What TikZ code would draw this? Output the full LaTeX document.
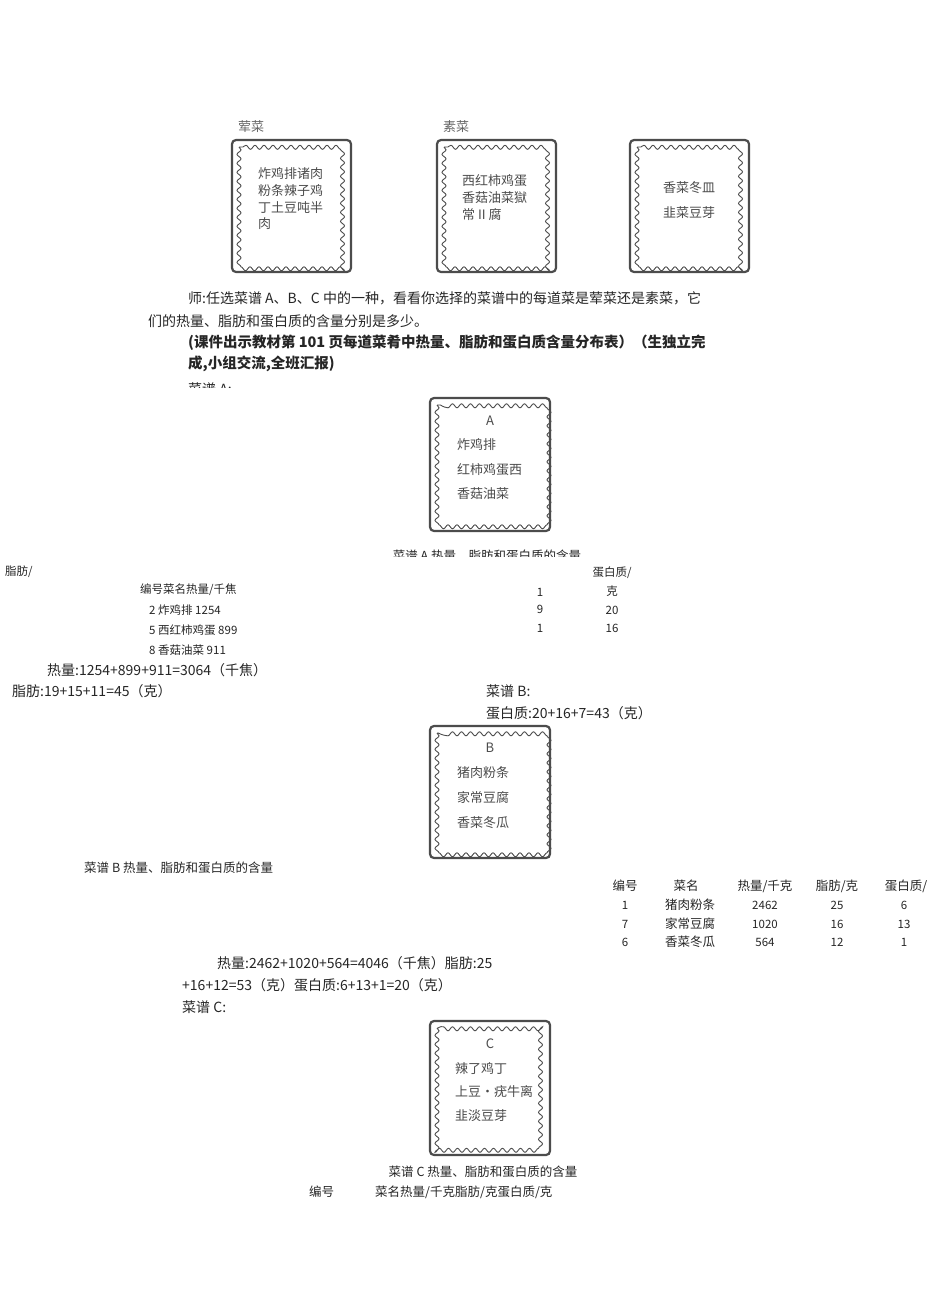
\documentclass[tikz,border=0pt]{standalone}
\usepackage{fontspec}
\setmainfont{Noto Sans CJK SC}
\usetikzlibrary{decorations.pathmorphing}
\tikzset{
 t/.style={anchor=west,inner sep=0pt,font=\fontsize{14}{14}\selectfont,text=black!85},
 s/.style={anchor=west,inner sep=0pt,font=\fontsize{11.5}{12}\selectfont,text=black!85},
 c/.style={anchor=center,inner sep=0pt,font=\fontsize{11.5}{12}\selectfont,text=black!85},
 bx/.style={anchor=west,inner sep=0pt,font=\fontsize{13}{13}\selectfont,text=black!70},
}
\newcommand{\stamp}[5]{% name x1 y1 x2 y2
 \draw[line width=2.2pt,black!70,rounded corners=4pt] (#2,#3) rectangle (#4,#5);
 \draw[black!70,line width=0.9pt,decorate,decoration={snake,segment length=9pt,amplitude=2pt}] (#2+7,#3+7) rectangle (#4-7,#5-7);
 \coordinate (#1) at ({(#2+#4)/2},{(#3+#5)/2});
}
\begin{document}
\begin{tikzpicture}[x=1pt,y=-1pt]
\useasboundingbox[fill=white] (0,0) rectangle (950,1312);
\stamp{s1}{232}{140}{351}{272}
\stamp{s2}{437}{140}{556}{272}
\stamp{s3}{630}{140}{749}{272}
\stamp{sA}{430}{398}{550}{531}
\stamp{sB}{430}{726}{550}{858}
\stamp{sC}{430}{1021}{550}{1155}
\node[bx,text=black!60] (h1) at (238,127) {荤菜};
\node[bx,text=black!60] (h2) at (443,127) {素菜};
\node[bx] (a1) at (258,174) {炸鸡排诸肉};
\node[bx] (a2) at (258,191) {粉条辣子鸡};
\node[bx] (a3) at (258,208) {丁土豆吨半};
\node[bx] (a4) at (258,224) {肉};
\node[bx] (b1) at (462,181) {西红柿鸡蛋};
\node[bx] (b2) at (462,198) {香菇油菜獄};
\node[bx] (b3) at (462,215) {常 II 腐};
\node[bx] (c1) at (663,188) {香菜冬皿};
\node[bx] (c2) at (663,213) {韭菜豆芽};
\node[t] (p1) at (188,298) {师:任选菜谱 A、B、C 中的一种，看看你选择的菜谱中的每道菜是荤菜还是素菜，它};
\node[t] (p2) at (148,321) {们的热量、脂肪和蛋白质的含量分别是多少。};
\node[t,font=\fontsize{14.5}{14}\selectfont\bfseries] (p3) at (188,343) {(课件出示教材第 101 页每道菜肴中热量、脂肪和蛋白质含量分布表）（生独立完};
\node[t,font=\fontsize{14.5}{14}\selectfont\bfseries] (p4) at (188,364) {成,小组交流,全班汇报)};
\begin{scope}
\clip (0,0) rectangle (950,387);
\node[t] (p5) at (188,389) {菜谱 A:};
\end{scope}
\node[bx,anchor=center] (Ah) at (490,421) {A};
\node[bx] (A1) at (457,445) {炸鸡排};
\node[bx] (A2) at (457,470) {红柿鸡蛋西};
\node[bx] (A3) at (457,494) {香菇油菜};
\begin{scope}
\clip (0,0) rectangle (950,556);
\node[c,font=\fontsize{12.5}{12}\selectfont] (tA) at (487,556) {菜谱 A 热量、脂肪和蛋白质的含量};
\end{scope}
\begin{scope}
\clip (0,565) rectangle (950,1312);
\node[s] (fz) at (5,572) {脂肪/};
\end{scope}
\node[s] (ah) at (140,590) {编号菜名热量/千焦};
\node[s] (ar1) at (149,610) {2 炸鸡排 1254};
\node[s] (ar2) at (149,630) {5 西红柿鸡蛋 899};
\node[s] (ar3) at (149,650) {8 香菇油菜 911};
\node[c] (q1) at (612,573) {蛋白质/};
\node[c] (q2) at (612,591) {克};
\node[c] (q3) at (612,610) {20};
\node[c] (q4) at (612,628) {16};
\node[c] (f1) at (540,592) {1};
\node[c] (f2) at (540,609) {9};
\node[c] (f3) at (540,628) {1};
\node[t] (e1) at (47,670) {热量:1254+899+911=3064（千焦）};
\node[t] (e2) at (12,691) {脂肪:19+15+11=45（克）};
\node[t] (e3) at (486,691) {菜谱 B:};
\node[t] (e4) at (486,713) {蛋白质:20+16+7=43（克）};
\node[bx,anchor=center] (Bh) at (490,748) {B};
\node[bx] (B1) at (457,773) {猪肉粉条};
\node[bx] (B2) at (457,798) {家常豆腐};
\node[bx] (B3) at (457,823) {香菜冬瓜};
\node[s,font=\fontsize{12.5}{12}\selectfont] (tB) at (84,868) {菜谱 B 热量、脂肪和蛋白质的含量};
\node[c,font=\fontsize{12.5}{12}\selectfont] (bh1) at (625,886) {编号};
\node[c,font=\fontsize{12.5}{12}\selectfont] (bh2) at (686,886) {菜名};
\node[c,font=\fontsize{12.5}{12}\selectfont] (bh3) at (765,886) {热量/千克};
\node[c,font=\fontsize{12.5}{12}\selectfont] (bh4) at (837,886) {脂肪/克};
\node[c,font=\fontsize{12.5}{12}\selectfont] (bh5) at (906,886) {蛋白质/};
\foreach \y/\a/\b/\cc/\d/\e in {905/1/猪肉粉条/2462/25/6, 924/7/家常豆腐/1020/16/13, 942/6/香菜冬瓜/564/12/1}{
 \node[c] at (625,\y) {\a};
 \node[c,font=\fontsize{12.5}{12}\selectfont] at (690,\y) {\b};
 \node[c] at (765,\y) {\cc};
 \node[c] at (837,\y) {\d};
 \node[c] at (904,\y) {\e};
}
\node[t] (g1) at (217,963) {热量:2462+1020+564=4046（千焦）脂肪:25};
\node[t] (g2) at (182,985) {+16+12=53（克）蛋白质:6+13+1=20（克）};
\node[t] (g3) at (182,1007) {菜谱 C:};
\node[bx,anchor=center] (Ch) at (490,1044) {C};
\node[bx] (C1) at (455,1069) {辣了鸡丁};
\node[bx] (C2) at (455,1092) {上豆•疣牛离};
\node[bx] (C3) at (455,1116) {韭淡豆芽};
\node[c,font=\fontsize{12.5}{12}\selectfont] (tC) at (483,1172) {菜谱 C 热量、脂肪和蛋白质的含量};
\node[s,font=\fontsize{12.5}{12}\selectfont] (ch1) at (309,1192) {编号};
\node[s,font=\fontsize{12.5}{12}\selectfont] (ch2) at (375,1192) {菜名热量/千克脂肪/克蛋白质/克};
\end{tikzpicture}
\end{document}
